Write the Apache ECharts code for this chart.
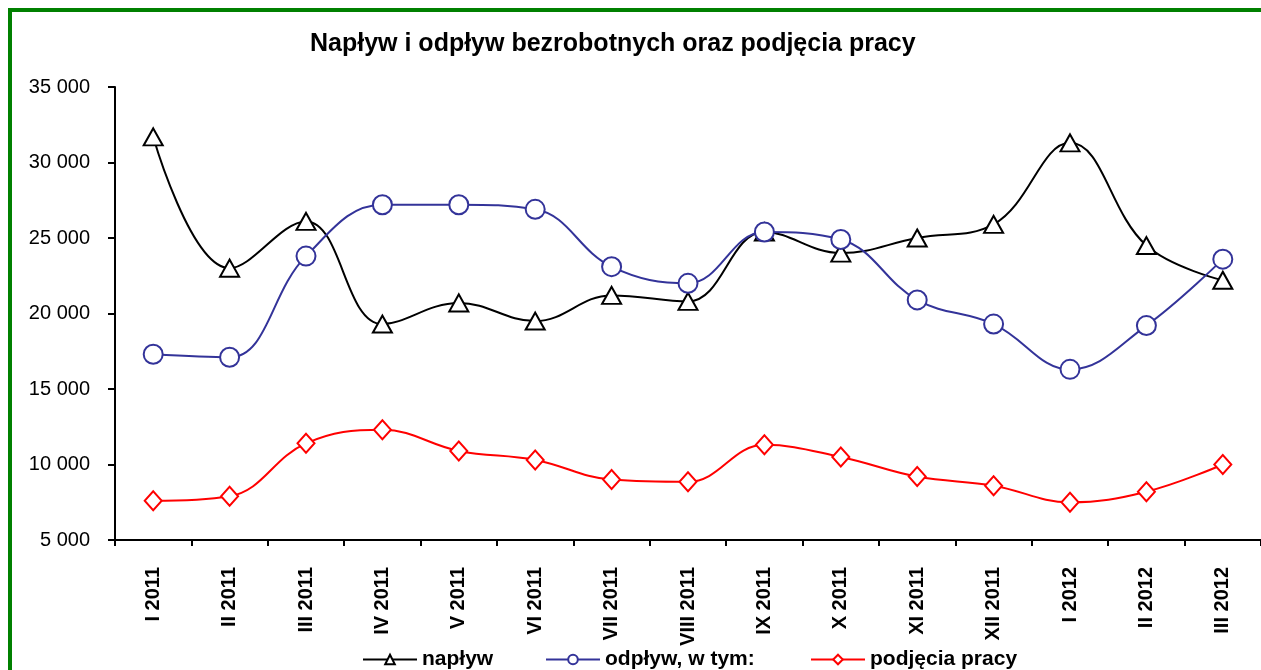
<!DOCTYPE html>
<html>
<head>
<meta charset="utf-8">
<script src="https://cdn.jsdelivr.net/npm/echarts@6/dist/echarts.min.js"></script>
<style>
html,body{margin:0;padding:0;background:#fff;}
#chart{position:absolute;left:0;top:0;width:1261px;height:670px;}
#frame{position:absolute;left:8px;top:8px;width:1300px;height:700px;border-left:4px solid #008000;border-top:4px solid #008000;pointer-events:none;}
</style>
</head>
<body>
<div id="chart"></div>
<div id="frame"></div>
<script>
const categories = ['I 2011','II 2011','III 2011','IV 2011','V 2011','VI 2011','VII 2011','VIII 2011','IX 2011','X 2011','XI 2011','XII 2011','I 2012','II 2012','III 2012'];
const naplyw   = [31700, 23000, 26100, 19300, 20700, 19500, 21200, 20800, 25400, 24000, 25000, 25900, 31300, 24500, 22200];
const odplyw   = [17300, 17100, 23800, 27200, 27200, 26900, 23100, 22000, 25400, 24900, 20900, 19300, 16300, 19200, 23600];
const podjecia = [7600, 7900, 11400, 12300, 10900, 10300, 9000, 8850, 11300, 10500, 9200, 8600, 7500, 8200, 10000];
const seriesNames = ['napływ', 'odpływ, w tym:', 'podjęcia pracy'];
const yTicks = {min: 5000, max: 35000, interval: 5000};
const titleText = 'Napływ i odpływ bezrobotnych oraz podjęcia pracy';

const FONT = '"Liberation Sans", Arial, sans-serif';
const chart = echarts.init(document.getElementById('chart'), null, {renderer: 'canvas'});

function fmt(v){ return String(v).replace(/\B(?=(\d{3})+(?!\d))/g, ' '); }

function lineSeries(name, data, color, symbol, size){
  return {
    name: name, type: 'line', data: data, smooth: 0.4,
    symbol: symbol, symbolSize: size, showSymbol: true,
    lineStyle: {color: color, width: 2},
    itemStyle: {color: '#fff', borderColor: color, borderWidth: 2},
    emphasis: {disabled: true},
    z: 3
  };
}

function legendAt(left, name){
  return {
    data: [name], left: left, top: 644, orient: 'horizontal',
    itemWidth: 54, itemHeight: 12, itemGap: 0,
    textStyle: {fontFamily: FONT, fontSize: 21, fontWeight: 'bold', color: '#000'},
    selectedMode: false
  };
}

chart.setOption({
  animation: false,
  backgroundColor: '#fff',
  title: {
    text: titleText, left: 305, top: 27,
    textStyle: {fontFamily: FONT, fontSize: 25, fontWeight: 'bold', color: '#000'}
  },
  legend: [legendAt(357, seriesNames[0]), legendAt(540, seriesNames[1]), legendAt(805, seriesNames[2])],
  grid: {left: 115, right: 0, top: 87, bottom: 130, containLabel: false},
  xAxis: {
    type: 'category', data: categories, boundaryGap: true,
    axisLine: {lineStyle: {color: '#000', width: 2}},
    axisTick: {show: true, length: 6, lineStyle: {color: '#000', width: 2}},
    axisLabel: {rotate: 90, margin: 27, fontFamily: FONT, fontSize: 20, fontWeight: 'bold', color: '#000', interval: 0}
  },
  yAxis: {
    type: 'value', min: yTicks.min, max: yTicks.max, interval: yTicks.interval,
    axisLine: {show: true, lineStyle: {color: '#000', width: 2}},
    axisTick: {show: true, length: 7, lineStyle: {color: '#000', width: 2}},
    splitLine: {show: false},
    axisLabel: {margin: 25, fontFamily: FONT, fontSize: 20, color: '#000', formatter: fmt}
  },
  series: [
    lineSeries(seriesNames[0], naplyw, '#000000', 'triangle', [19, 17]),
    lineSeries(seriesNames[1], odplyw, '#333399', 'circle', [19, 19]),
    lineSeries(seriesNames[2], podjecia, '#ff0000', 'diamond', [17, 19])
  ]
});
</script>
</body>
</html>
